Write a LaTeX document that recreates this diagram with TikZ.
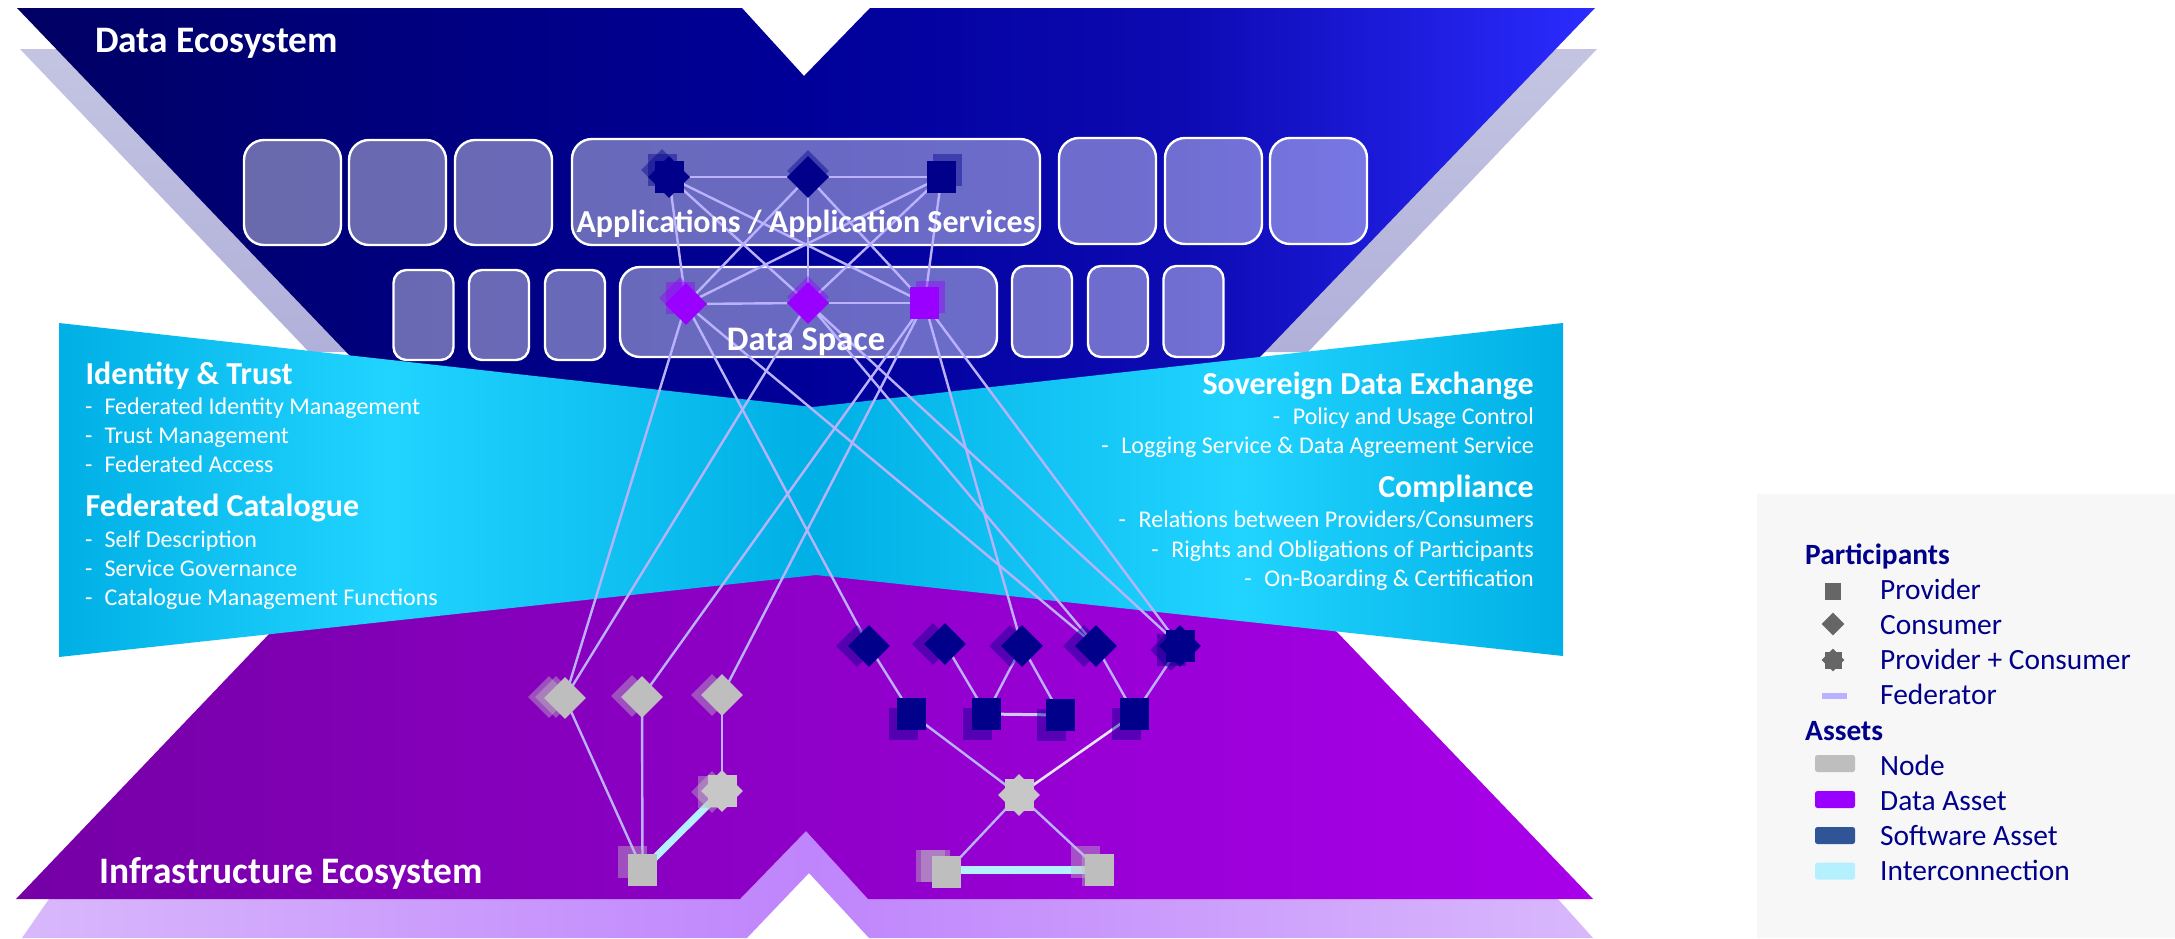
\documentclass[tikz,border=0pt]{standalone}
\usepackage{fontspec}
\setmainfont{Carlito}
\usetikzlibrary{shapes.geometric}
\pgfdeclarelayer{back}
\pgfdeclarelayer{lines}
\pgfsetlayers{back,lines,main}
\definecolor{navyP}{HTML}{00008B}
\definecolor{purpP}{HTML}{9900FF}
\definecolor{greyP}{HTML}{BEBEBE}
\definecolor{softP}{HTML}{2F5597}
\definecolor{fedLine}{HTML}{BAB2FF}
\definecolor{interC}{HTML}{B5F0FF}
\definecolor{shadeTop}{HTML}{C4C4E2}
\definecolor{shadeBot}{HTML}{B0B0DA}
\pgfdeclarehorizontalshading{dataShade}{100bp}{rgb(0bp)=(0,0,0.39); rgb(25bp)=(0,0,0.39); rgb(50bp)=(0,0,0.6); rgb(62bp)=(0.05,0.04,0.7); rgb(75bp)=(0.17,0.17,1); rgb(100bp)=(0.17,0.17,1)}
\pgfdeclarehorizontalshading{cyanShade}{100bp}{rgb(0bp)=(0,0.69,0.9); rgb(25bp)=(0,0.69,0.9); rgb(36bp)=(0.13,0.83,1); rgb(50bp)=(0,0.69,0.9); rgb(64.25bp)=(0.13,0.83,1); rgb(75bp)=(0,0.69,0.9); rgb(100bp)=(0,0.69,0.9)}
\pgfdeclarehorizontalshading{purpShade}{100bp}{rgb(0bp)=(0.46,0,0.65); rgb(25bp)=(0.46,0,0.65); rgb(75bp)=(0.66,0,0.92); rgb(100bp)=(0.66,0,0.92)}
\pgfdeclarehorizontalshading{lilacShade}{100bp}{rgb(0bp)=(0.85,0.72,0.99); rgb(25bp)=(0.85,0.72,0.99); rgb(50bp)=(0.75,0.52,0.99); rgb(75bp)=(0.85,0.72,0.99); rgb(100bp)=(0.85,0.72,0.99)}
\tikzset{
  dia/.style={diamond,aspect=1,inner sep=0pt,minimum width=42pt,minimum height=42pt,draw=none},
  sq/.style={rectangle,inner sep=0pt,minimum width=29pt,minimum height=32pt,draw=none},
  ghost/.style={opacity=.42},
  bigbox/.style={rectangle,rounded corners=20pt,draw=white,line width=2.4pt,fill=white,fill opacity=.41,inner sep=0pt},
  smallbox/.style={rectangle,rounded corners=13pt,draw=white,line width=2.4pt,fill=white,fill opacity=.41,inner sep=0pt},
  fed/.style={draw=fedLine,line width=2.4pt},
  fedlight/.style={draw=fedLine!35!white,line width=2.6pt},
  inter/.style={draw=interC,line width=7pt},
  head/.style={text=white,font=\fontsize{32}{32}\selectfont\bfseries,inner sep=0pt,yshift=-7.5pt},
  item/.style={text=white,font=\fontsize{24}{24}\selectfont,inner sep=0pt,yshift=-5.5pt},
  eco/.style={text=white,font=\fontsize{37.4}{37.4}\selectfont\bfseries,inner sep=0pt,yshift=-10pt},
  lbl/.style={text=navyP,font=\fontsize{29.4}{29.4}\selectfont,inner sep=0pt,anchor=mid west,yshift=-7pt},
  lblb/.style={text=navyP,font=\fontsize{29.4}{29.4}\selectfont\bfseries,inner sep=0pt,anchor=mid west,yshift=-7pt},
  swatch/.style={rectangle,rounded corners=2.5pt,inner sep=0pt,minimum width=40pt,minimum height=17pt,draw=none},
}
\newcommand{\ndia}[4]{\node[dia,fill=#4] (#1) at (#2,#3) {};}
\newcommand{\nsq}[4]{\node[sq,fill=#4] (#1) at (#2,#3) {};}
\newcommand{\nstar}[4]{\node[dia,fill=#4] (#1) at (#2,#3) {};\node[sq,fill=#4] (#1r) at (#2,#3) {};}
\newcommand{\gdia}[4]{\node[dia,ghost,fill=#4] (#1) at (#2,#3) {};}
\newcommand{\gsq}[4]{\node[sq,ghost,fill=#4] (#1) at (#2,#3) {};}
\newcommand{\gstar}[4]{\node[dia,ghost,fill=#4] (#1) at (#2,#3) {};\node[sq,ghost,fill=#4] (#1r) at (#2,#3) {};}
\begin{document}
\begin{tikzpicture}[x=1pt,y=-1pt]
\useasboundingbox (0,0) rectangle (2175,938);
\begin{pgfonlayer}{back}
% shadows of ecosystems
\path[top color=shadeTop,bottom color=shadeBot] (20,49) -- (770,49) -- (804,85) -- (840,49) -- (1597,49) -- (1308,352) -- (309,352) -- cycle;
\path[shading=lilacShade] (22,938) -- (49,899) -- (740,899) -- (806,831) -- (868,899) -- (1558,899) -- (1593,938) -- (869,938) -- (809,873) -- (747,938) -- cycle;
% data ecosystem
\path[shading=dataShade] (17,8) -- (742,8) -- (804,76) -- (870,8) -- (1595,8) -- (1259,358) -- (1200,420) -- (420,420) -- (351,357) -- cycle;
% infrastructure
\path[shading=purpShade] (16,899) -- (270,633) -- (400,560) -- (1200,560) -- (1337,632) -- (1593,899) -- (868,899) -- (806,831) -- (740,899) -- cycle;
% cyan band
\path[shading=cyanShade] (59,323) -- (813,407) -- (1563,323) -- (1563,656) -- (816,575) -- (59,657) -- cycle;
% boxes
\node[bigbox,minimum width=97pt,minimum height=105pt] (a1) at (292.5,192.5) {};
\node[bigbox,minimum width=97pt,minimum height=105pt] (a2) at (397.5,192.5) {};
\node[bigbox,minimum width=97pt,minimum height=105pt] (a3) at (503.5,192.5) {};
\node[bigbox,minimum width=468pt,minimum height=106pt] (amain) at (806,192) {};
\node[bigbox,minimum width=97pt,minimum height=106pt] (a4) at (1107.5,191) {};
\node[bigbox,minimum width=97pt,minimum height=106pt] (a5) at (1213.5,191) {};
\node[bigbox,minimum width=97pt,minimum height=106pt] (a6) at (1318.5,191) {};
\node[smallbox,minimum width=60pt,minimum height=90pt] (b1) at (423.5,315) {};
\node[smallbox,minimum width=60pt,minimum height=90pt] (b2) at (499,315) {};
\node[smallbox,minimum width=60pt,minimum height=90pt] (b3) at (575,315) {};
\node[smallbox,rounded corners=20pt,minimum width=377pt,minimum height=90pt] (bmain) at (808.5,312) {};
\node[smallbox,minimum width=60pt,minimum height=91pt] (b4) at (1042,311.5) {};
\node[smallbox,minimum width=60pt,minimum height=91pt] (b5) at (1118,311.5) {};
\node[smallbox,minimum width=60pt,minimum height=91pt] (b6) at (1193.5,311.5) {};
% legend panel
\path[fill=black!3] (1757,494) rectangle (2175,938);
\end{pgfonlayer}
% shapes: application row
\gstar{appAg}{662}{170}{navyP}
\gdia{appBg}{808}{171}{navyP}
\gsq{appCg}{947.5}{170}{navyP}
\nstar{appA}{669}{177}{navyP}
\ndia{appB}{808}{177}{navyP}
\nsq{appC}{941.5}{177}{navyP}
% data row
\gstar{datAg}{680}{298}{purpP}
\gdia{datBg}{808}{297}{purpP}
\gsq{datCg}{930.5}{297}{purpP}
\ndia{datA}{686}{304}{purpP}
\ndia{datB}{808}{303}{purpP}
\nsq{datC}{924.5}{303}{purpP}
% left infra
\gdia{g1s}{549}{697}{greyP}
\gdia{g1t}{556}{697}{greyP}
\gdia{g2s}{632}{696}{greyP}
\gdia{g3s}{712}{695}{greyP}
\gstar{infSg}{712}{792}{greyP}
\gsq{infQg}{632.5}{862}{greyP}
\ndia{g1}{565}{698}{greyP}
\ndia{g2}{642}{697}{greyP}
\ndia{g3}{722}{695}{greyP}
\nstar{infS}{722}{791}{black!22}
\nsq{infQ}{642.5}{870}{greyP}
% right infra
\gdia{d1s}{857}{646}{navyP}
\gdia{d2s}{933}{644}{navyP}
\gdia{d3s}{1010}{646}{navyP}
\gdia{d4s}{1084}{646}{navyP}
\gstar{d5s}{1171}{650}{navyP}
\gsq{s1s}{903.5}{724}{navyP}
\gsq{s2s}{977.5}{724}{navyP}
\gsq{s3s}{1051.5}{725}{navyP}
\gsq{s4s}{1126.5}{724}{navyP}
\ndia{d1}{869}{646}{navyP}
\ndia{d2}{945}{644}{navyP}
\ndia{d3}{1022}{646}{navyP}
\ndia{d4}{1096}{646}{navyP}
\nstar{d5}{1180}{646}{navyP}
\nsq{s1}{911.5}{714}{navyP}
\nsq{s2}{986.5}{714}{navyP}
\nsq{s3}{1060.5}{715}{navyP}
\nsq{s4}{1134.5}{714}{navyP}
\nstar{hub}{1019}{795}{black!22}
\gsq{pls}{930.5}{866}{greyP}
\gsq{plt}{935.5}{866}{greyP}
\gsq{prs}{1085}{862}{greyP}
\gsq{prt}{1096}{870}{greyP}
\nsq{pl}{946.5}{872}{greyP}
\nsq{pr}{1099.5}{870}{greyP}
% connectors
\begin{pgfonlayer}{lines}
\draw[fed] (appA) -- (appB);
\draw[fed] (appB) -- (appC);
\draw[fed] (datA) -- (datB);
\draw[fed] (datB) -- (datC);
\foreach \u in {appA,appB,appC}
  \foreach \v in {datA,datB,datC}
    \draw[fed] (\u.center) -- (\v.center);
\foreach \u/\v in {datA/g1,datA/d1,datA/d4,datB/g1,datB/d4,datB/d5,datC/g2,datC/g3,datC/d3,datC/d5,
  g1/infQ,g2/infQ,g3/infS,d1/s1,d2/s2,d3/s2,d3/s3,d4/s4,d5/s4,s1/hub,hub/pl,hub/pr}
  \draw[fed] (\u.center) -- (\v.center);
\draw[fedlight] (s4.center) -- (hub.center);
\draw[fed,line width=3pt,draw=fedLine!70!white] (s2.center) -- (s3.center);
\draw[inter] (infS.center) -- (infQ.center);
\draw[inter,line width=8pt] (pl.center |- pr.center) -- (pr.center);
\end{pgfonlayer}
% texts
\node[eco,anchor=mid west] (tData) at (95,40) {Data Ecosystem};
\node[eco,anchor=mid west] (tInfra) at (99,871) {Infrastructure Ecosystem};
\node[text=white,font=\fontsize{32}{32}\selectfont\bfseries,inner sep=0pt,anchor=mid,yshift=-7.5pt] (tApp) at (806,223) {Applications / Application Services};
\node[text=white,font=\fontsize{34.4}{34.4}\selectfont\bfseries,inner sep=0pt,anchor=mid,yshift=-8pt] (tDS) at (806,340) {Data Space};
\node[head,anchor=mid west] (tIT) at (85.5,375) {Identity \& Trust};
\node[item,anchor=mid west] (tIT1) at (85,407) {-\hspace{.5em}Federated Identity Management};
\node[item,anchor=mid west] (tIT2) at (85,436) {-\hspace{.5em}Trust Management};
\node[item,anchor=mid west] (tIT3) at (85,465) {-\hspace{.5em}Federated Access};
\node[head,anchor=mid west] (tFC) at (85.5,507) {Federated Catalogue};
\node[item,anchor=mid west] (tFC1) at (85,540) {-\hspace{.5em}Self Description};
\node[item,anchor=mid west] (tFC2) at (85,569) {-\hspace{.5em}Service Governance};
\node[item,anchor=mid west] (tFC3) at (85,598) {-\hspace{.5em}Catalogue Management Functions};
\node[head,anchor=mid east] (tSD) at (1534,385) {Sovereign Data Exchange};
\node[item,anchor=mid east] (tSD1) at (1534,417) {-\hspace{.53em}Policy and Usage Control};
\node[item,anchor=mid east] (tSD2) at (1534,446) {-\hspace{.53em}Logging Service \& Data Agreement Service};
\node[head,anchor=mid east] (tCO) at (1534,488) {Compliance};
\node[item,anchor=mid east] (tCO1) at (1534,520) {-\hspace{.53em}Relations between Providers/Consumers};
\node[item,anchor=mid east] (tCO2) at (1534,550) {-\hspace{.53em}Rights and Obligations of Participants};
\node[item,anchor=mid east] (tCO3) at (1534,579) {-\hspace{.53em}On-Boarding \& Certification};
% legend
\node[lblb] (lP) at (1805,555) {Participants};
\node[lbl] (l1) at (1880,590) {Provider};
\node[lbl] (l2) at (1880,625) {Consumer};
\node[lbl] (l3) at (1880,660) {Provider + Consumer};
\node[lbl] (l4) at (1880,695) {Federator};
\node[lblb] (lA) at (1805,731) {Assets};
\node[lbl] (l5) at (1880,766) {Node};
\node[lbl] (l6) at (1880,801) {Data Asset};
\node[lbl] (l7) at (1880,836) {Software Asset};
\node[lbl] (l8) at (1880,871) {Interconnection};
\node[rectangle,inner sep=0pt,minimum width=16pt,minimum height=17pt,fill=black!60] (k1) at (1833,591.5) {};
\node[diamond,aspect=1,inner sep=0pt,minimum width=23pt,minimum height=23pt,fill=black!60] (k2) at (1833,624) {};
\node[diamond,aspect=1,inner sep=0pt,minimum width=23pt,minimum height=23pt,fill=black!60] (k3) at (1833,660) {};
\node[rectangle,inner sep=0pt,minimum width=17pt,minimum height=17pt,fill=black!60] (k3r) at (1833,660) {};
\node[rectangle,inner sep=0pt,minimum width=25pt,minimum height=6pt,fill=fedLine] (k4) at (1834.5,696) {};
\node[swatch,fill=greyP] (k5) at (1835,763.5) {};
\node[swatch,fill=purpP] (k6) at (1835,799.5) {};
\node[swatch,fill=softP] (k7) at (1835,835.5) {};
\node[swatch,fill=interC] (k8) at (1835,871) {};
\end{tikzpicture}
\end{document}
